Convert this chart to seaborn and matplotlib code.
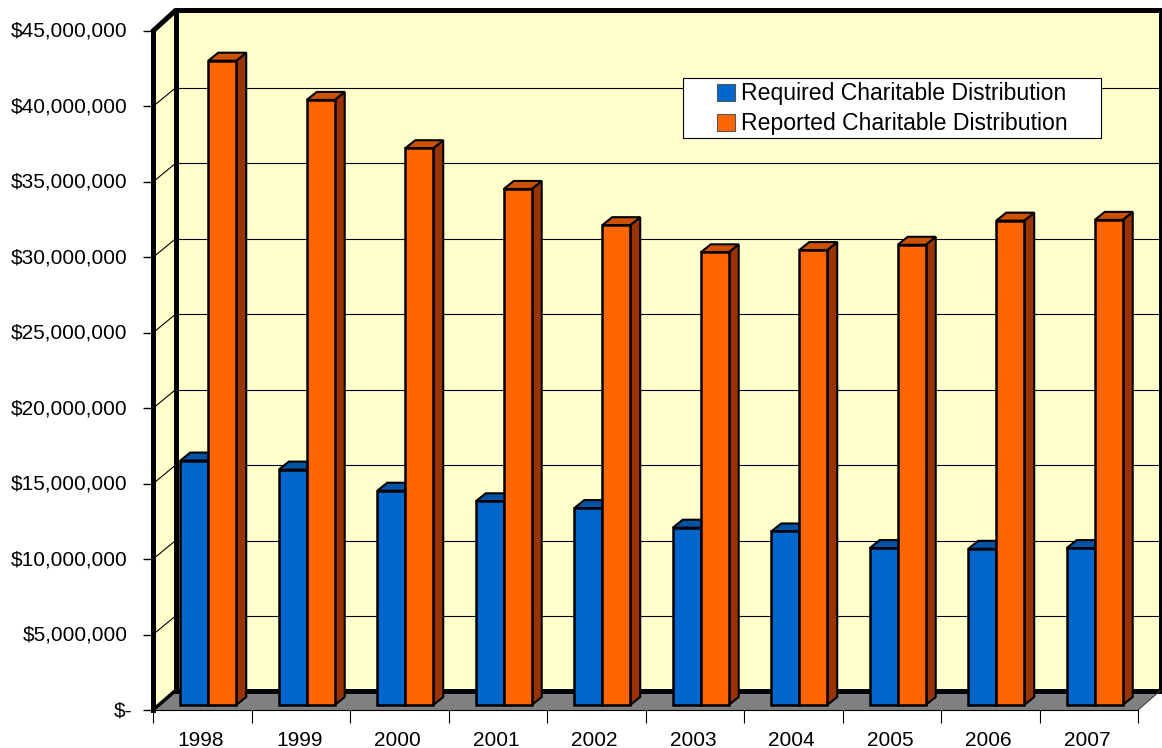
import pandas as pd
import seaborn as sns
import matplotlib
matplotlib.use('Agg')
import matplotlib.pyplot as plt
from matplotlib.patches import Polygon, Rectangle
from matplotlib.transforms import Affine2D, IdentityTransform

years = ['1998', '1999', '2000', '2001', '2002', '2003', '2004', '2005', '2006', '2007']
required = [16.2, 15.6, 14.2, 13.5, 13.05, 11.75, 11.5, 10.4, 10.35, 10.4]
reported = [42.7, 40.1, 36.9, 34.2, 31.8, 30.0, 30.15, 30.5, 32.1, 32.15]
y_ticks = [0, 5, 10, 15, 20, 25, 30, 35, 40, 45]
y_labels = ['$-', '$5,000,000', '$10,000,000', '$15,000,000', '$20,000,000',
            '$25,000,000', '$30,000,000', '$35,000,000', '$40,000,000', '$45,000,000']
series_names = ['Required Charitable Distribution', 'Reported Charitable Distribution']

sns.set_style('white')
plt.rcParams['font.family'] = ['Liberation Sans', 'DejaVu Sans']

W, H = 1162, 748
fig = plt.figure(figsize=(W / 100, H / 100), dpi=100)
ax = fig.add_axes([153 / W, (H - 710) / H, 985 / W, 679 / H])

df = pd.DataFrame({
    'year': years * 2,
    'value': required + reported,
    'series': [series_names[0]] * 10 + [series_names[1]] * 10,
})
sns.barplot(data=df, x='year', y='value', hue='series', ax=ax, width=0.568, gap=0,
            palette=['#0066CC', '#FF6600'], edgecolor='black', linewidth=1.8,
            saturation=1, zorder=5, legend=False)

ax.set_xlim(-0.5, 9.5)
ax.set_ylim(0, 45)
ax.set_xlabel('')
ax.set_ylabel('')
ax.patch.set_visible(False)

# depth of the fake 3d box, in pixels
dx, dy = 22.5, 19.5
back = Affine2D().translate(dx, dy)
px = IdentityTransform()

# side walls and floor
ax.add_patch(Rectangle((0, 0), 1, 1, transform=ax.transAxes + back, facecolor='#FFFFCC',
                       edgecolor='none', zorder=0, clip_on=False))
ax.add_patch(Polygon([(153, H - 710), (153 + dx, H - 710 + dy), (153 + dx, H - 31 + dy), (153, H - 31)],
                     transform=px, facecolor='#FFFFCC', edgecolor='none', zorder=0.5, clip_on=False))
ax.add_patch(Polygon([(153, H - 710), (1138, H - 710), (1138 + dx, H - 710 + dy), (153 + dx, H - 710 + dy)],
                     transform=px, facecolor='#808080', edgecolor='none', zorder=1, clip_on=False))

# gridlines on back wall, diagonals on the left wall
grid_back = Affine2D().translate(dx, dy - 1)
ax.hlines(y_ticks[1:-1], 0, 1, transform=ax.get_yaxis_transform() + grid_back, color='black', lw=0.8,
          zorder=1, clip_on=False)
for t in y_ticks[1:-1]:
    py = ax.transData.transform((0, t))[1]
    ax.plot([153, 153 + dx], [py, py + dy - 1], transform=px, color='black', lw=0.8, zorder=1, clip_on=False)

# heavy frame
ax.add_patch(Rectangle((0, 0), 1, 1.002, transform=ax.transAxes + back, facecolor='none',
                       edgecolor='black', lw=3.6, zorder=2, clip_on=False))
ax.plot([153, 153 + dx], [H - 31, H - 31 + dy + 1], transform=px, color='black', lw=3.6, zorder=2, clip_on=False)
ax.plot([153, 153 + dx], [H - 710, H - 710 + dy], transform=px, color='black', lw=2.5, zorder=2, clip_on=False)
ax.plot([1138, 1138 + dx], [H - 710, H - 710 + dy], transform=px, color='#404040', lw=0.8, zorder=2, clip_on=False)

# move bars to the middle of the box and add top and side faces
shift = Affine2D().translate(6, 5)
bar_dx, bar_dy = 10, 8
side_colors = ['#004C99', '#993300']
top_colors = ['#0052A3', '#CC5200']
for cont, side_c, top_c in zip(ax.containers, side_colors, top_colors):
    for bar in cont:
        bar.set_transform(ax.transData + shift)
        bar.set_clip_on(False)
        x0, y0 = bar.get_x(), bar.get_y()
        (l, b) = (ax.transData + shift).transform((x0, y0))
        (r, t) = (ax.transData + shift).transform((x0 + bar.get_width(), y0 + bar.get_height()))
        ax.add_patch(Polygon([(r, b), (r + bar_dx, b + bar_dy), (r + bar_dx, t + bar_dy), (r, t)],
                             transform=px, facecolor=side_c, edgecolor='black',
                             lw=1.5, zorder=4, clip_on=False))
        ax.add_patch(Polygon([(l, t), (l + bar_dx, t + bar_dy), (r + bar_dx, t + bar_dy), (r, t)],
                             transform=px, facecolor=top_c, edgecolor='black',
                             lw=1.5, zorder=4, clip_on=False))

# axes, ticks
sns.despine(ax=ax, top=True, right=True)
ax.spines['left'].set_linewidth(3.6)
ax.spines['left'].set_color('black')
ax.spines['left'].set_zorder(6)
ax.spines['bottom'].set_linewidth(0.8)
ax.spines['bottom'].set_color('black')
ax.spines['bottom'].set_zorder(6)

ax.set_yticks(y_ticks)
ax.set_yticklabels(y_labels)
ax.tick_params(axis='y', left=True, length=7.2, width=1, pad=11, labelsize=15, colors='black')
for lab in ax.yaxis.get_ticklabels():
    off = 5 if lab.get_text() == '$-' else 0
    lab.set_transform(lab.get_transform() + Affine2D().translate(off, 1.5))

ax.set_xticks(range(10))
ax.set_xticklabels(years)
ax.set_xticks([i - 0.5 for i in range(11)], minor=True)
ax.tick_params(axis='x', which='major', bottom=False, length=0, pad=15, labelsize=15, labelcolor='black')
ax.tick_params(axis='x', which='minor', bottom=True, length=9, width=0.8, color='black')
for lab in ax.xaxis.get_ticklabels():
    lab.set_transform(lab.get_transform() + Affine2D().translate(-1.5, 0))

# legend box
ax.add_patch(Rectangle((683, H - 138), 418, 60, transform=px, facecolor='white',
                       edgecolor='black', lw=0.8, zorder=7, clip_on=False))
handles = [Rectangle((0, 0), 1, 1, facecolor=c, edgecolor='#555555', lw=0.8) for c in ['#0066CC', '#FF6600']]
leg = ax.legend(handles, series_names, frameon=False, fontsize=16.6, loc='upper left',
                bbox_to_anchor=(714 / W, (H - 79) / H), bbox_transform=fig.transFigure,
                borderpad=0.15, borderaxespad=0, handlelength=0.74, handleheight=0.74,
                handletextpad=0.26, labelspacing=0.3, labelcolor='black')
leg.set_zorder(8)

plt.savefig('out.png', dpi=100)
